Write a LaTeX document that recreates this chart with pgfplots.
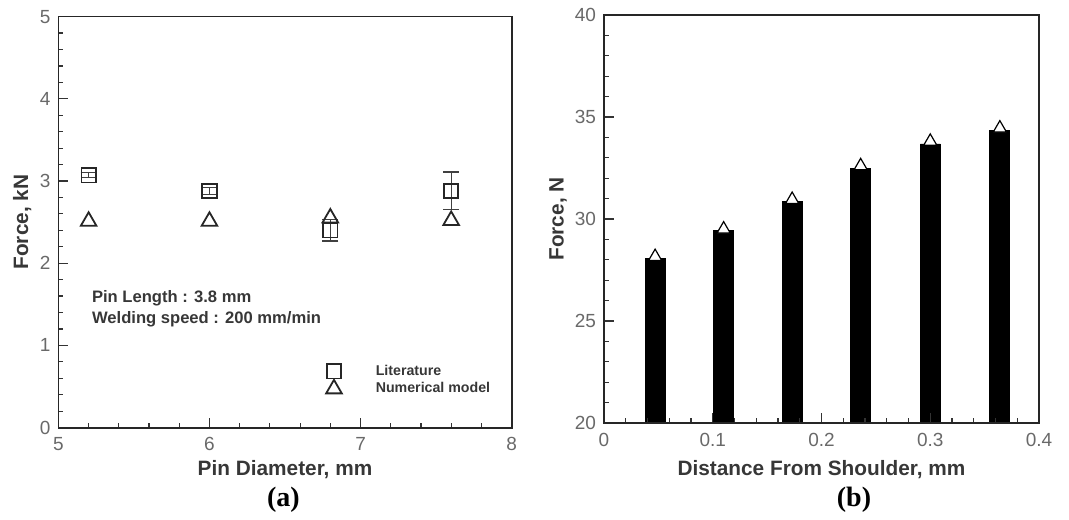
\documentclass[border=0pt]{standalone}
\usepackage{fontspec}
\setmainfont{Liberation Sans}
\newfontfamily\capfont{Liberation Serif}
\usepackage{pgfplots}
\pgfplotsset{compat=1.18}
\definecolor{tickgray}{RGB}{105,105,105}
\definecolor{labgray}{RGB}{55,55,55}
\begin{document}
\begin{tikzpicture}
\path (0pt,0pt) rectangle (534.5pt,259pt);
\pgfplotsset{every axis/.append style={
  scale only axis, anchor=south west,
  axis line style={line width=0.9pt, black!85},
  tick style={black!80, line width=0.6pt},
  major tick length=5pt, minor tick length=2.5pt,
  tick align=inside, xtick pos=bottom, ytick pos=left,
  tick label style={font=\fontsize{9.5}{11}\selectfont, text=tickgray},
  label style={font=\fontsize{10.4}{12}\selectfont\bfseries, text=labgray},
  /pgf/number format/assume math mode=true}}
% ---------------- (a)
\begin{axis}[at={(29.2pt,45.2pt)}, width=226.6pt, height=205.5pt,
  xmin=5, xmax=8, ymin=0, ymax=5,
  xtick={5,6,7,8}, ytick={0,1,2,3,4,5},
  minor x tick num=4, minor y tick num=4,
  xlabel={Pin Diameter, mm}, ylabel={Force, kN},
  xlabel style={at={(axis description cs:0.5,0)}, anchor=center, yshift=-20.9pt},
  ylabel style={at={(axis description cs:-0.08,0.5)}, anchor=center},
  xticklabel style={yshift=-1.5pt},
  yticklabel style={xshift=-0.5pt},
  legend style={at={(axis cs:6.77,0.795)}, anchor=north west, draw=none, fill=none,
    inner sep=0pt, row sep=0pt,
    nodes={inner ysep=0.8pt, text height=5.5pt, text depth=1.5pt, text=labgray,
      font=\fontsize{7.1}{8}\selectfont\bfseries},
    /tikz/every odd column/.style={column sep=15pt}},
  legend cell align=left]
\addplot[only marks, mark=square, mark size=3.6pt, mark options={line width=0.9pt, draw=black!85},
  error bars/.cd, y dir=both, y explicit,
  error bar style={line width=0.6pt, black!75},
  error mark options={mark size=4pt, line width=0.6pt, black!75, rotate=90}]
  coordinates {
  (5.2,3.07) +- (0,0.03)
  (6.0,2.88) +- (0,0.04)
  (6.8,2.40) +- (0,0.13)
  (7.6,2.88) +- (0,0.23)
  };
\addlegendentry{Literature}
\addplot[only marks, mark=triangle, mark size=4.5pt, mark options={line width=0.9pt, draw=black!85}]
  coordinates {
  (5.2,2.51)
  (6.0,2.51)
  (6.8,2.55)
  (7.6,2.52)
  };
\addlegendentry{Numerical model}
\node[anchor=west, align=left, font=\fontsize{8.3}{10.4}\selectfont\bfseries, text=labgray, inner sep=0pt]
  at (axis cs:5.22,1.45) {Pin Length : 3.8 mm\\Welding speed : 200 mm/min};
\end{axis}
% ---------------- (b)
\begin{axis}[at={(302pt,47.5pt)}, width=217.5pt, height=204pt,
  xmin=0, xmax=0.4, ymin=20, ymax=40,
  xtick={0,0.1,0.2,0.3,0.4}, ytick={20,25,30,35,40},
  minor x tick num=4, minor y tick num=4,
  xlabel={Distance From Shoulder, mm}, ylabel={Force, N},
  xlabel style={at={(axis description cs:0.5,0)}, anchor=center, yshift=-23.5pt},
  ylabel style={at={(axis description cs:-0.1057,0.5)}, anchor=center},
  xticklabel style={/pgf/number format/fixed, yshift=-1.5pt},
  yticklabel style={xshift=-0.5pt},
  axis on top]
\addplot[only marks, mark=triangle*, mark size=3.8pt, mark options={fill=white, draw=black, line width=0.6pt}]
  coordinates {
  (0.047,28.15)
  (0.110,29.50)
  (0.173,30.95)
  (0.236,32.60)
  (0.300,33.80)
  (0.364,34.45)
  };
\addplot[ybar, bar width=10pt, bar shift=0pt, fill=black, draw=black]
  coordinates {
  (0.047,28.08)
  (0.110,29.42)
  (0.173,30.86)
  (0.236,32.49)
  (0.300,33.68)
  (0.364,34.33)
  };
\end{axis}
\node[font=\capfont\fontsize{14}{16}\selectfont\bfseries] at (141.7pt,9pt) {(a)};
\node[font=\capfont\fontsize{14}{16}\selectfont\bfseries] at (427pt,9pt) {(b)};
\end{tikzpicture}
\end{document}
